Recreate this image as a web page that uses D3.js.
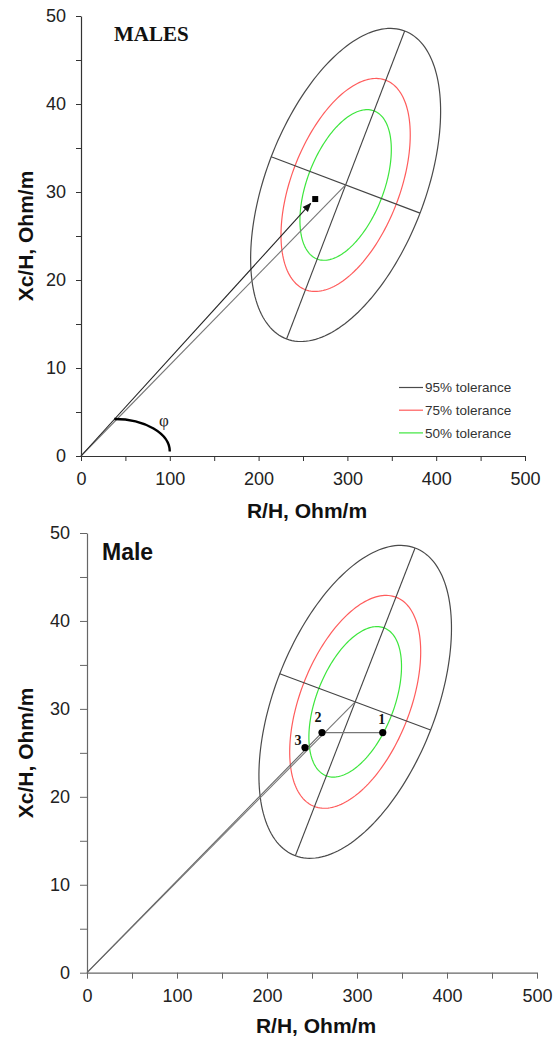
<!DOCTYPE html>
<html>
<head>
<meta charset="utf-8">
<script src="https://cdn.jsdelivr.net/npm/d3@7"></script>
<style>
  body { margin: 0; background: #fff; }
</style>
</head>
<body>
<div id="chart"></div>
<script>
//Axis ticks (minor every 50 / 5, labels every 100 / 10)
var xTickValues = [0, 50, 100, 150, 200, 250, 300, 350, 400, 450, 500];
var yTickValues = [0, 5, 10, 15, 20, 25, 30, 35, 40, 45, 50];
var xTickLabels = ["0", "100", "200", "300", "400", "500"];
var yTickLabels = ["0", "10", "20", "30", "40", "50"];

var refCenter = [298, 30.8];
var refMajorEnd = [364.5, 48.3];
var refMinorEnd = [381.8, 27.6];
var tolerances = [95, 75, 50];
var toleranceLabels = ["95% tolerance", "75% tolerance", "50% tolerance"];

//Top panel: subject vector and phase angle arc
var malesVector = [263.2, 29.2];
var phiArcStart = [37.5, 4.2];
var phiArcEnd = [100, 0.5];

//Bottom panel: three subject points
var malePointR = [328.6, 261.1, 242.2];
var malePointXc = [27.3, 27.3, 25.6];
var malePointLabels = ["1", "2", "3"];

var toleranceColors = {95: "#4a4a4a", 75: "#ff5c5c", 50: "#3de63d"};
var sans = "'Liberation Sans', Arial, sans-serif";
var serif = "'Liberation Serif', 'Times New Roman', serif";

var svg = d3.select("#chart").append("svg")
    .attr("width", 556)
    .attr("height", 1039);

var defs = svg.append("defs");
defs.append("marker")
    .attr("id", "arrow")
    .attr("viewBox", "0 0 10 10")
    .attr("refX", 9)
    .attr("refY", 5)
    .attr("markerWidth", 9)
    .attr("markerHeight", 9)
    .attr("markerUnits", "userSpaceOnUse")
    .attr("orient", "auto")
    .append("path")
    .attr("d", "M0,1 L10,5 L0,9 Z")
    .style("fill", "#111");

// chi-square radius for a 2-D tolerance region
function tolRadius(p) {
    return Math.sqrt(-2 * Math.log(1 - p / 100));
}

function ellipsePoints(scale) {
    var a = [refMajorEnd[0] - refCenter[0], refMajorEnd[1] - refCenter[1]];
    var b = [refMinorEnd[0] - refCenter[0], refMinorEnd[1] - refCenter[1]];
    var pts = [];
    for (var i = 0; i < 180; i++) {
        var t = i / 180 * 2 * Math.PI;
        pts.push([refCenter[0] + scale * (Math.cos(t) * a[0] + Math.sin(t) * b[0]),
                  refCenter[1] + scale * (Math.cos(t) * a[1] + Math.sin(t) * b[1])]);
    }
    return pts;
}

function drawPanel(opt) {
    var x = d3.scaleLinear().domain([0, 500]).range(opt.xRange);
    var y = d3.scaleLinear().domain([0, 50]).range(opt.yRange);
    var g = svg.append("g");

    //axes
    var xAxis = d3.axisBottom(x)
        .tickValues(xTickValues)
        .tickSize(opt.xTick)
        .tickSizeOuter(0)
        .tickPadding(opt.xPad)
        .tickFormat(function (d) {
            var i = xTickLabels.indexOf(String(d));
            return i >= 0 ? xTickLabels[i] : "";
        });
    var yAxis = d3.axisLeft(y)
        .tickValues(yTickValues)
        .tickSize(opt.yTick)
        .tickSizeOuter(0)
        .tickPadding(opt.yPad)
        .tickFormat(function (d) {
            var i = yTickLabels.indexOf(String(d));
            return i >= 0 ? yTickLabels[i] : "";
        });

    var gx = g.append("g")
        .attr("transform", "translate(0," + opt.yRange[0] + ")")
        .call(xAxis);
    var gy = g.append("g")
        .attr("transform", "translate(" + opt.xRange[0] + ",0)")
        .call(yAxis);

    [gx, gy].forEach(function (ax) {
        ax.select(".domain").style("stroke", opt.axisColor).style("stroke-width", 1.2);
        ax.selectAll(".tick line").style("stroke", opt.axisColor).style("stroke-width", 1);
        ax.selectAll("text")
            .style("font-family", sans)
            .style("font-size", "18px")
            .style("fill", "#222");
    });

    //axis titles
    g.append("text")
        .attr("x", (opt.xRange[0] + opt.xRange[1]) / 2 + 4)
        .attr("y", opt.xTitleY)
        .attr("text-anchor", "middle")
        .style("font-family", sans)
        .style("font-weight", "bold")
        .style("font-size", "21px")
        .style("fill", "#111")
        .text("R/H, Ohm/m");

    g.append("text")
        .attr("transform", "translate(33," + (opt.yRange[0] + opt.yRange[1]) / 2 + ") rotate(-90)")
        .attr("text-anchor", "middle")
        .style("font-family", sans)
        .style("font-weight", "bold")
        .style("font-size", "21px")
        .style("fill", "#111")
        .text("Xc/H, Ohm/m");

    //ellipses
    var line = d3.line()
        .x(function (d) { return x(d[0]); })
        .y(function (d) { return y(d[1]); })
        .curve(d3.curveLinearClosed);

    tolerances.forEach(function (p) {
        g.append("path")
            .attr("d", line(ellipsePoints(tolRadius(p) / tolRadius(95))))
            .style("fill", "none")
            .style("stroke", toleranceColors[p])
            .style("stroke-width", 1.2);
    });

    //major and minor axes of the 95% ellipse
    var majorLow = [2 * refCenter[0] - refMajorEnd[0], 2 * refCenter[1] - refMajorEnd[1]];
    var minorLow = [2 * refCenter[0] - refMinorEnd[0], 2 * refCenter[1] - refMinorEnd[1]];
    [[majorLow, refMajorEnd], [minorLow, refMinorEnd]].forEach(function (s) {
        g.append("line")
            .attr("x1", x(s[0][0])).attr("y1", y(s[0][1]))
            .attr("x2", x(s[1][0])).attr("y2", y(s[1][1]))
            .style("stroke", "#444")
            .style("stroke-width", 1.1);
    });

    //vector to the reference centre
    g.append("line")
        .attr("x1", x(0)).attr("y1", y(0))
        .attr("x2", x(refCenter[0])).attr("y2", y(refCenter[1]))
        .style("stroke", "#777")
        .style("stroke-width", 1.1);

    return {g: g, x: x, y: y};
}

//TOP PANEL
var topPanel = drawPanel({
    xRange: [81, 525], yRange: [456, 16],
    xTick: 5, xPad: 11, yTick: 5, yPad: 10,
    axisColor: "#333", xTitleY: 518
});

(function () {
    var g = topPanel.g, x = topPanel.x, y = topPanel.y;
    var px = x(malesVector[0]), py = y(malesVector[1]);
    var dx = px - x(0), dy = py - y(0);
    var len = Math.sqrt(dx * dx + dy * dy);
    g.append("line")
        .attr("x1", x(0)).attr("y1", y(0))
        .attr("x2", px - dx / len * 6).attr("y2", py - dy / len * 6)
        .style("stroke", "#222")
        .style("stroke-width", 1.1)
        .attr("marker-end", "url(#arrow)");
    g.append("rect")
        .attr("x", px - 2.5).attr("y", py - 3)
        .attr("width", 6).attr("height", 6)
        .style("fill", "#000");

    //phase angle arc: quarter ellipse from the vector down to the R axis
    var cx = x(phiArcStart[0]), cy = y(phiArcEnd[1]);
    var rx = x(phiArcEnd[0]) - cx, ry = cy - y(phiArcStart[1]);
    g.append("path")
        .attr("d", "M" + cx + "," + (cy - ry) + " A" + rx + "," + ry + " 0 0 1 " + (cx + rx) + "," + cy)
        .style("fill", "none")
        .style("stroke", "#000")
        .style("stroke-width", 2.4);
    g.append("text")
        .attr("x", 164).attr("y", 426)
        .attr("text-anchor", "middle")
        .style("font-family", serif)
        .style("font-size", "17px")
        .style("fill", "#222")
        .text("\u03c6");

    g.append("text")
        .attr("x", 114).attr("y", 41)
        .style("font-family", serif)
        .style("font-weight", "bold")
        .style("font-size", "21px")
        .style("fill", "#111")
        .text("MALES");

    //legend
    var legend = g.selectAll(".legend")
        .data(tolerances)
        .enter()
        .append("g")
        .attr("class", "legend")
        .attr("transform", function (d, i) { return "translate(399," + (387.5 + i * 22.7) + ")"; });
    legend.append("line")
        .attr("x1", 0).attr("x2", 24)
        .style("stroke", function (d) { return toleranceColors[d]; })
        .style("stroke-width", 1.2);
    legend.append("text")
        .attr("x", 26)
        .attr("dy", "0.36em")
        .style("font-family", sans)
        .style("font-size", "13.5px")
        .style("fill", "#333")
        .text(function (d, i) { return toleranceLabels[i]; });
})();

//BOTTOM PANEL
var bottomPanel = drawPanel({
    xRange: [87, 537], yRange: [972.7, 533],
    xTick: 6, xPad: 11, yTick: 7, yPad: 10,
    axisColor: "#666", xTitleY: 1033
});

(function () {
    var g = bottomPanel.g, x = bottomPanel.x, y = bottomPanel.y;

    //vector to point 2 and the horizontal shift from 2 to 1
    g.append("line")
        .attr("x1", x(0)).attr("y1", y(0))
        .attr("x2", x(malePointR[1])).attr("y2", y(malePointXc[1]))
        .style("stroke", "#666")
        .style("stroke-width", 1.1);
    g.append("line")
        .attr("x1", x(malePointR[1])).attr("y1", y(malePointXc[1]))
        .attr("x2", x(malePointR[0])).attr("y2", y(malePointXc[0]))
        .style("stroke", "#777")
        .style("stroke-width", 1.4);

    var labelOffsets = [[-1, -9], [-4, -11], [-7, -3]];
    var pts = g.selectAll(".pt")
        .data(malePointR)
        .enter()
        .append("g")
        .attr("class", "pt");
    pts.append("circle")
        .attr("cx", function (d) { return x(d); })
        .attr("cy", function (d, i) { return y(malePointXc[i]); })
        .attr("r", 3.6)
        .style("fill", "#000");
    pts.append("text")
        .attr("x", function (d, i) { return x(d) + labelOffsets[i][0]; })
        .attr("y", function (d, i) { return y(malePointXc[i]) + labelOffsets[i][1]; })
        .attr("text-anchor", "middle")
        .style("font-family", serif)
        .style("font-weight", "bold")
        .style("font-size", "14px")
        .style("fill", "#111")
        .text(function (d, i) { return malePointLabels[i]; });

    g.append("text")
        .attr("x", 102).attr("y", 560)
        .style("font-family", sans)
        .style("font-weight", "bold")
        .style("font-size", "23px")
        .style("fill", "#111")
        .text("Male");
})();
</script>
</body>
</html>
